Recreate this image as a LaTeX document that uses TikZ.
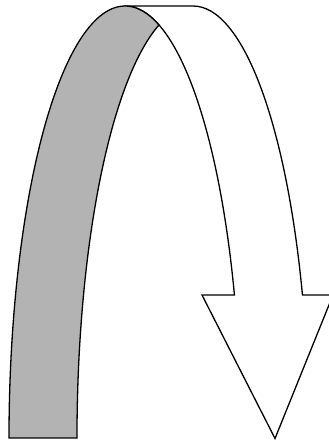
\documentclass[tikz,border=0pt]{standalone}
\definecolor{band}{RGB}{179,179,179}
\tikzset{
  outline/.style={draw=black, line width=1.3pt, line join=miter},
  ell/.style={x radius=116, y radius=432}
}
\begin{document}
\begin{tikzpicture}[x=1pt,y=1pt]
\useasboundingbox (0,0) rectangle (329,442);
\clip (0,0) rectangle (329,442);
\coordinate (top) at (125,436);
\coordinate (topR) at (193,436);
\coordinate (tip) at (275,3.5);
\coordinate (shL) at (202,147);
\coordinate (shR) at (333,147);
\coordinate (bL) at (9,4);
% white front band with arrow head
\path[outline, fill=white] (top) -- (topR)
  arc[start angle=90, end angle=19.33, ell] -- (shR) -- (tip) -- (shL)
  -- (234.45,147) arc[start angle=19.33, end angle=90, ell] -- cycle;
% gray back band
\path[outline, fill=band] (bL)
  arc[start angle=180, end angle=72.96, ell]
  arc[start angle=107.04, end angle=180, ell] -- cycle;
\end{tikzpicture}
\end{document}
